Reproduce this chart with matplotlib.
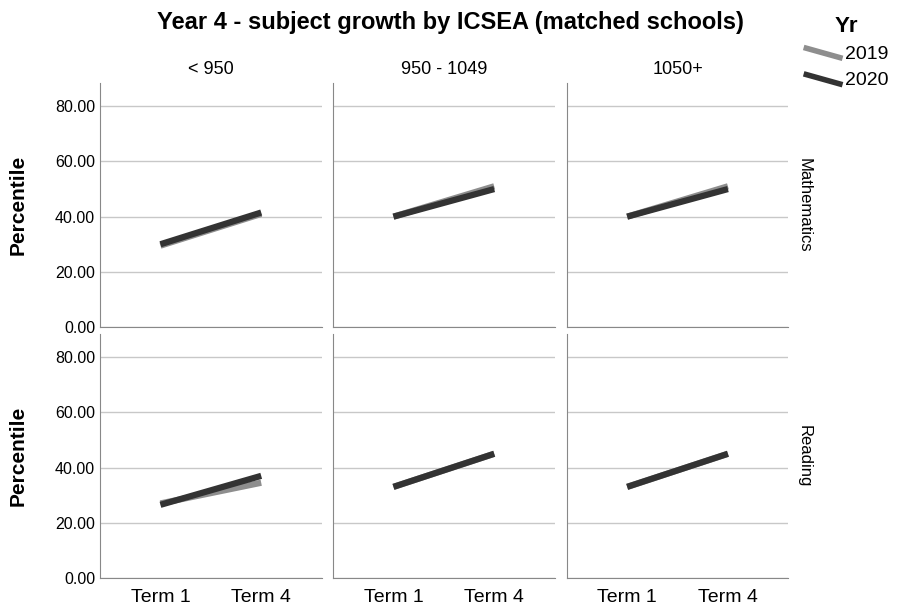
import matplotlib.pyplot as plt
from matplotlib.legend_handler import HandlerLine2D
from matplotlib.lines import Line2D

plt.rcParams["font.family"] = ["Liberation Sans", "DejaVu Sans"]

terms = ["Term 1", "Term 4"]
bands = ["< 950", "950 - 1049", "1050+"]
subjects = ["Mathematics", "Reading"]
years = ["2019", "2020"]

# mean percentile per subject, ICSEA band and year: [Term 1, Term 4]
math_2019 = [[29.5, 41.0], [40.0, 51.0], [40.0, 51.0]]
math_2020 = [[30.0, 41.5], [40.0, 50.0], [40.0, 50.0]]
read_2019 = [[27.0, 34.5], [33.0, 45.0], [33.0, 45.0]]
read_2020 = [[26.5, 37.0], [33.0, 45.0], [33.0, 45.0]]

values = {
    ("Mathematics", "2019"): math_2019,
    ("Mathematics", "2020"): math_2020,
    ("Reading", "2019"): read_2019,
    ("Reading", "2020"): read_2020,
}
colors = {"2019": "#8e8e8e", "2020": "#333333"}


class DiagonalHandler(HandlerLine2D):
    def create_artists(self, legend, orig_handle, xdescent, ydescent,
                       width, height, fontsize, trans):
        line = Line2D([0, width], [height * 0.85, height * 0.05],
                      color=orig_handle.get_color(),
                      linewidth=orig_handle.get_linewidth(),
                      solid_capstyle="butt")
        line.set_transform(trans)
        return [line]


fig = plt.figure(figsize=(9.01, 6.09), dpi=100)
lefts = [0.111, 0.3696, 0.629]
bottoms = [0.463, 0.051]
w, h = 0.246, 0.401

for r, subj in enumerate(subjects):
    for c, band in enumerate(bands):
        ax = fig.add_axes([lefts[c], bottoms[r], w, h])
        for yr in years:
            ax.plot([0, 1], values[(subj, yr)][c], color=colors[yr],
                    linewidth=4.5, solid_capstyle="butt")
        ax.set_xlim(-0.6, 1.6)
        ax.set_ylim(0, 88.5)
        ax.set_yticks([0, 20, 40, 60, 80])
        ax.yaxis.grid(True, color="#c8c8c8", linewidth=1)
        ax.set_axisbelow(True)
        for s in ["top", "right"]:
            ax.spines[s].set_visible(False)
        for s in ["left", "bottom"]:
            ax.spines[s].set_color("#888888")
        ax.tick_params(length=0)
        ax.tick_params(axis="x", pad=8)
        if c == 0:
            ax.set_yticklabels([f"{v:.2f}" for v in [0, 20, 40, 60, 80]],
                               fontsize=11.5)
            ax.set_ylabel("Percentile", fontsize=15, fontweight="bold",
                          labelpad=20)
        else:
            ax.set_yticklabels([])
        if r == 1:
            ax.set_xticks([0, 1])
            ax.set_xticklabels(terms, fontsize=14)
        else:
            ax.set_xticks([])
            ax.set_title(band, fontsize=13, pad=6)
        if c == 2:
            ax.text(1.035, 0.5, subj, transform=ax.transAxes, rotation=270,
                    va="center", ha="left", fontsize=12)

fig.suptitle("Year 4 - subject growth by ICSEA (matched schools)",
             x=0.5, y=0.982, fontsize=17, fontweight="bold")

handles = [Line2D([], [], color=colors[yr], linewidth=4) for yr in years]
leg = fig.legend(handles, years, title="Yr", loc="upper right",
                 bbox_to_anchor=(1.005, 1.003), frameon=False, fontsize=14,
                 handlelength=2.0, handletextpad=0.1, labelspacing=0.45,
                 handler_map={Line2D: DiagonalHandler()})
leg.get_title().set_fontsize(16)
leg.get_title().set_fontweight("bold")

fig.savefig("out.png", dpi=100)
